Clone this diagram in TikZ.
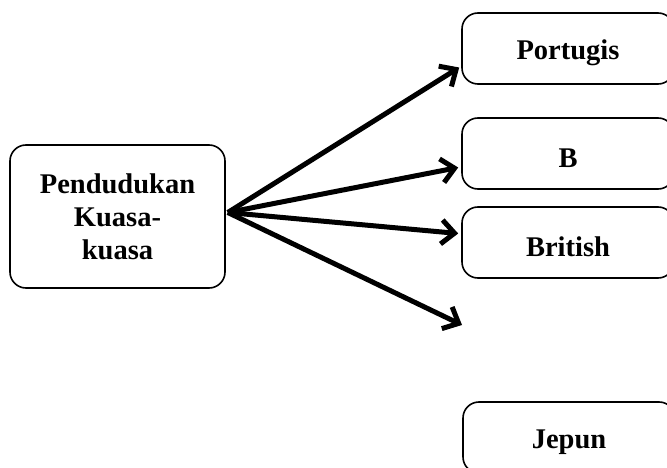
\documentclass[tikz,border=0pt]{standalone}
\usepackage{fontspec}
\setmainfont{Liberation Serif}
\usetikzlibrary{arrows.meta}
\newcommand{\lowtxt}[1]{\raisebox{-4.5pt}[\height][\depth]{#1}}
\begin{document}
\begin{tikzpicture}[x=1pt,y=-1pt,
  box/.style={draw, line width=1.6pt, rounded corners=16pt, align=center,
    font=\fontsize{28.5}{33}\selectfont\bfseries, inner sep=0pt},
  sbox/.style={box, minimum width=212pt, minimum height=71pt},
  conn/.style={line width=5pt, -{Straight Barb[length=13pt,width=24pt,line width=5pt]}}]
\useasboundingbox (0,0) rectangle (667,468);
\clip (0,0) rectangle (667,468);
\node[box, minimum width=215pt, minimum height=143pt] (main) at (117.5,216.5) {Pendudukan\\Kuasa-\\kuasa};
\node[sbox] (p) at (568,48.5) {\lowtxt{Portugis}};
\node[sbox] (b) at (568,153.5) {\lowtxt{B}};
\node[sbox] (br) at (568,242.5) {\lowtxt{British}};
\node[sbox] (j) at (569,437.5) {\lowtxt{Jepun}};
\coordinate (src) at ([xshift=2pt,yshift=4pt]main.east);
\coordinate (free) at (462,325);
\draw[conn] (src) -- ([xshift=-2pt,yshift=-19pt]p.west);
\draw[conn] (src) -- ([xshift=-3pt,yshift=-14pt]b.west);
\draw[conn] (src) -- ([xshift=-3pt,yshift=9pt]br.west);
\draw[conn] (src) -- (free);
\end{tikzpicture}
\end{document}
